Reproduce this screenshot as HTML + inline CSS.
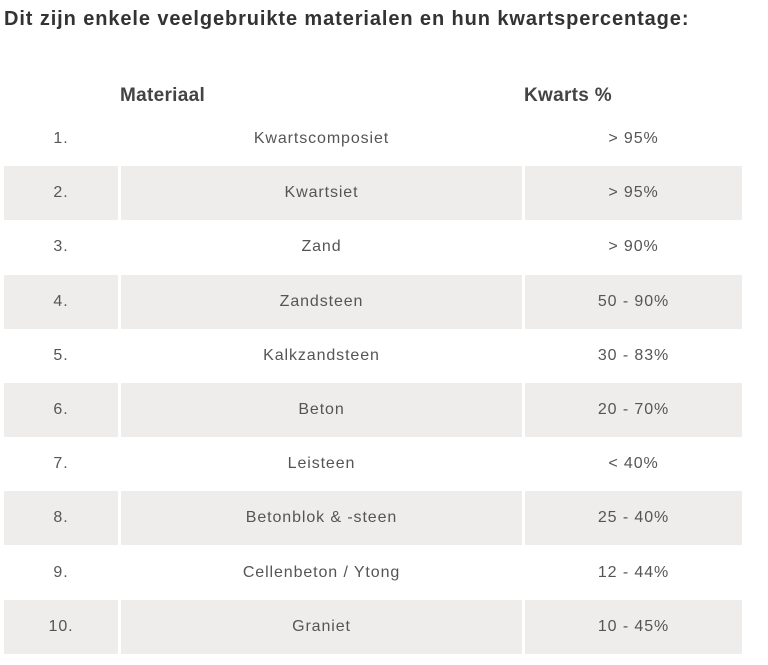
<!DOCTYPE html>
<html><head><meta charset="utf-8"><style>
body{margin:0;width:768px;height:665px;background:#fff;font-family:"Liberation Sans",sans-serif;position:relative;overflow:hidden}
h1{position:absolute;left:4px;top:8px;margin:0;font-size:20px;letter-spacing:0.9px;font-weight:bold;color:#333;white-space:nowrap}
.r{position:absolute;left:4px;width:738px;height:54px}
.c{position:absolute;top:0;height:54px;line-height:54px;text-align:center;font-size:16px;letter-spacing:0.9px;color:#555}
.g .c{background:#efedec}
.c1{left:0;width:114px}.c2{left:117px;width:401px}.c3{left:521px;width:217px}
.h .c{font-weight:bold;font-size:19px;letter-spacing:0.3px;color:#444}
</style></head><body>
<h1>Dit zijn enkele veelgebruikte materialen en hun kwartspercentage:</h1>
<div class="r h" style="top:69px;height:54px">
<div class="c c1" style="left:116px;width:auto;text-align:left">Materiaal</div>
<div class="c c3" style="left:520px;width:auto;text-align:left">Kwarts %</div>
</div>
<div id="t"></div>
<script>
const nums=["1.","2.","3.","4.","5.","6.","7.","8.","9.","10."];
const materials=["Kwartscomposiet","Kwartsiet","Zand","Zandsteen","Kalkzandsteen","Beton","Leisteen","Betonblok & -steen","Cellenbeton / Ytong","Graniet"];
const quartz=["> 95%","> 95%","> 90%","50 - 90%","30 - 83%","20 - 70%","< 40%","25 - 40%","12 - 44%","10 - 45%"];
const t=document.getElementById('t');
for(let i=0;i<materials.length;i++){
 const r=document.createElement('div');
 r.className='r'+(i%2?' g':'');
 r.style.top=(112+i*54.2)+'px';
 
 
 [[nums[i],'c1'],[materials[i],'c2'],[quartz[i],'c3']].forEach(([txt,cl])=>{
  const c=document.createElement('div');
  c.className='c '+cl;
  c.textContent=txt;
  
  
  r.appendChild(c);
 });
 t.appendChild(r);
}
</script>
</body></html>
